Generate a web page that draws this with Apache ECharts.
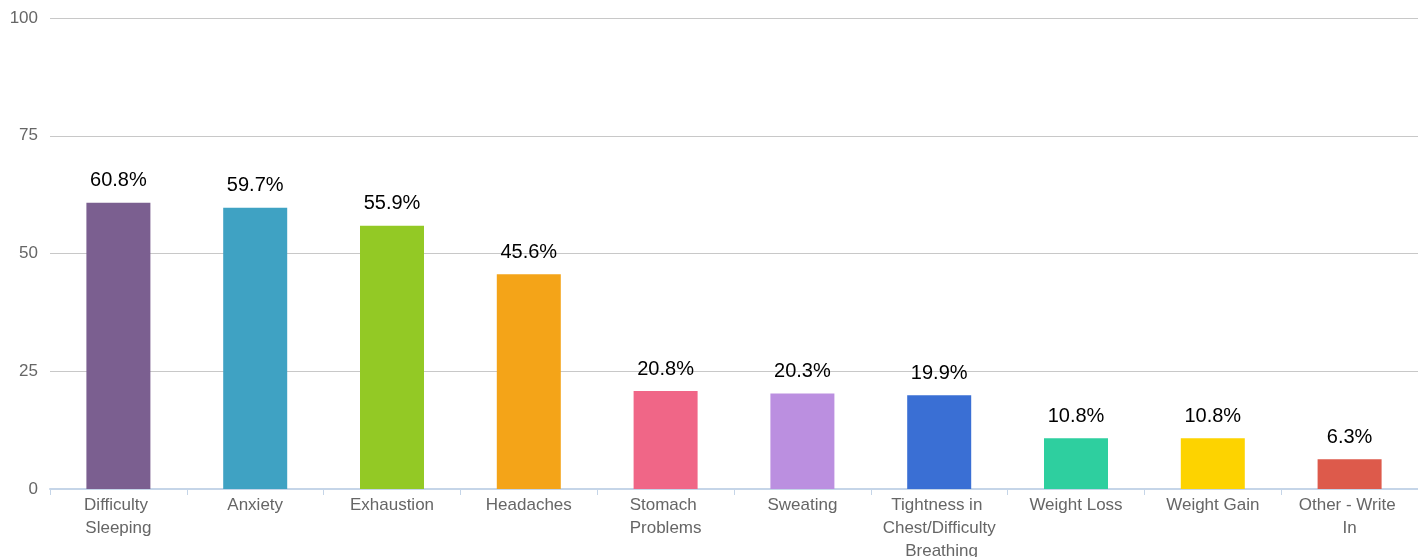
<!DOCTYPE html>
<html><head><meta charset="utf-8">
<script src="https://cdn.jsdelivr.net/npm/echarts@6/dist/echarts.min.js"></script>
<style>html,body{margin:0;padding:0;background:#fff}#c{width:1418px;height:557px}</style>
</head><body><div id="c"></div>
<script>
const categories = ["Difficulty Sleeping","Anxiety","Exhaustion","Headaches","Stomach Problems","Sweating","Tightness in Chest/Difficulty Breathing","Weight Loss","Weight Gain","Other - Write In"];
const values = [60.8,59.7,55.9,45.6,20.8,20.3,19.9,10.8,10.8,6.3];
const colors = ["#7b5f90","#3fa2c3","#93c925","#f4a418","#f06687","#bb8fe0","#3a6fd4","#2ecf9f","#fdd300","#dd5a4b"];
const yTicks = [0,25,50,75,100];
const chart = echarts.init(document.getElementById('c'));
chart.setOption({
  animation:false,
  grid:{left:50,right:0,top:18,bottom:68,containLabel:false,outerBoundsMode:'none'},
  xAxis:{type:'category',data:categories,
    axisLine:{lineStyle:{color:'#c5d5e8',width:2}},
    axisTick:{show:true,length:6,lineStyle:{color:'#c5d5e8',width:1}},
    axisLabel:{interval:0,color:'#666',fontSize:17,fontFamily:'Liberation Sans, Arial, sans-serif',lineHeight:23,margin:5,width:115,overflow:'break'}},
  yAxis:{type:'value',min:yTicks[0],max:yTicks[yTicks.length-1],interval:25,
    axisLine:{show:false},axisTick:{show:false},
    axisLabel:{color:'#666',fontSize:17,fontFamily:'Liberation Sans, Arial, sans-serif',margin:12},
    splitLine:{lineStyle:{color:'#c8c8c8',width:1}}},
  series:[{type:'bar',barWidth:64,
    data:values.map((v,i)=>({value:v,itemStyle:{color:colors[i]}})),
    label:{show:true,position:'top',distance:12,color:'#000',fontSize:20,fontFamily:'Liberation Sans, Arial, sans-serif',formatter:p=>p.value.toFixed(1)+'%'}}]
});
</script></body></html>
